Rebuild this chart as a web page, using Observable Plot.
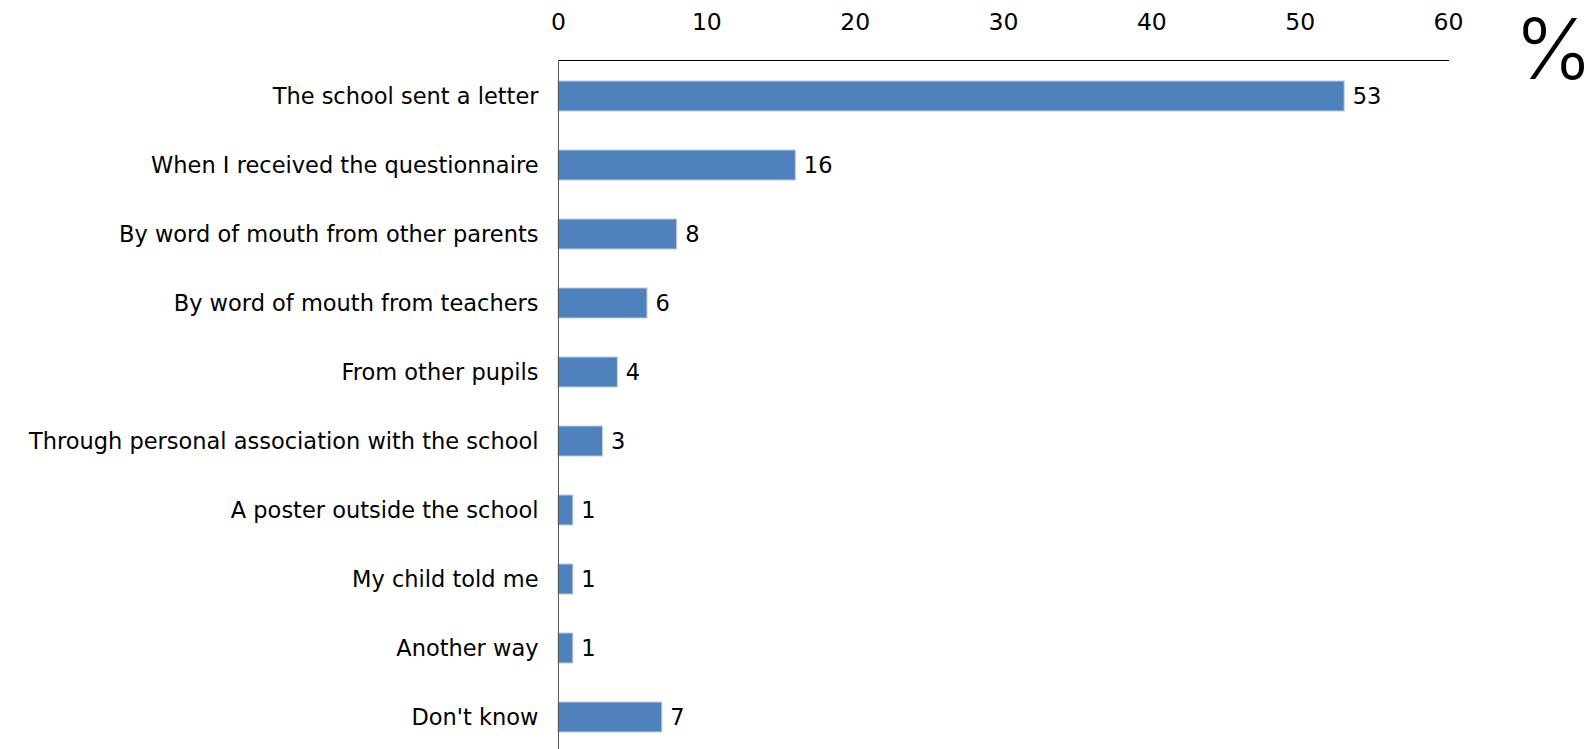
<!DOCTYPE html>
<html><head><meta charset="utf-8">
<script src="https://cdn.jsdelivr.net/npm/d3@7"></script>
<script src="https://cdn.jsdelivr.net/npm/@observablehq/plot@0.6"></script>
<style>
html,body{margin:0;padding:0;background:#fff;}
#chart{position:relative;width:1593px;height:749px;}
svg{font-family:"DejaVu Sans",sans-serif;}
</style>
</head><body>
<div id="chart"></div>
<script>
const categories = [
  "The school sent a letter",
  "When I received the questionnaire",
  "By word of mouth from other parents",
  "By word of mouth from teachers",
  "From other pupils",
  "Through personal association with the school",
  "A poster outside the school",
  "My child told me",
  "Another way",
  "Don't know"
];
const values = [53, 16, 8, 6, 4, 3, 1, 1, 1, 7];
const xTicks = [0, 10, 20, 30, 40, 50, 60];
const unitLabel = "%";

const data = categories.map((c, i) => ({category: c, value: values[i]}));

const plot = Plot.plot({
  width: 1593,
  height: 749,
  marginTop: 60,
  marginLeft: 558,
  marginRight: 145,
  marginBottom: 0,
  style: {fontSize: "22px", color: "#000", background: "#fff"},
  x: {domain: [0, 60], ticks: xTicks, axis: null},
  y: {domain: categories, range: [60, 752], paddingInner: 0.57, paddingOuter: 0.285, axis: null},
  marks: [
    Plot.axisX({anchor: "top", ticks: xTicks, tickSize: 0, tickPadding: 31, fontSize: 23.5, label: null, tickFormat: d => d}),
    Plot.axisY({anchor: "left", tickSize: 0, tickPadding: 20, fontSize: 22.5, label: null}),
    Plot.barX(data, {x: "value", y: "category", fill: "#4F81BD", stroke: "#B9CDE5", strokeWidth: 1}),
    Plot.frame({anchor: "top", stroke: "#000", strokeWidth: 1}),
    Plot.frame({anchor: "left", stroke: "#555", strokeWidth: 1}),
    Plot.text(data, {x: "value", y: "category", text: d => String(d.value), textAnchor: "start", dx: 8, fontSize: 22.5, fill: "#000"}),
    Plot.text([unitLabel], {frameAnchor: "top-right", text: d => d, dx: 105, dy: -8, textAnchor: "middle", lineAnchor: "middle", fontSize: 84, fontFamily: "Inter, sans-serif", fontWeight: 300, fill: "#000"})
  ]
});
plot.style.overflow = "visible";
document.getElementById("chart").appendChild(plot);
</script>
</body></html>
